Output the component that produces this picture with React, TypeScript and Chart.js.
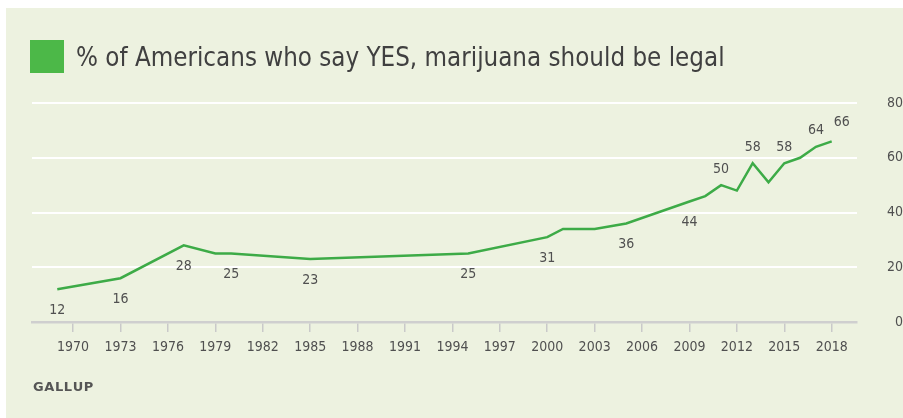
import React, { useEffect, useRef } from "react";
import { Chart, registerables } from "chart.js";

Chart.register(...registerables);

const years = [1969, 1973, 1977, 1979, 1980, 1985, 1995, 2000, 2001, 2003, 2005, 2009, 2010, 2011, 2012, 2013, 2014, 2015, 2016, 2017, 2018];
const values = [12, 16, 28, 25, 25, 23, 25, 31, 34, 34, 36, 44, 46, 50, 48, 58, 51, 58, 60, 64, 66];
// where each value label is placed relative to its point ("" = no label)
const labelPlacement = ["below", "below", "below", "", "below", "below", "below", "below", "", "", "below", "below", "", "above", "", "above", "", "above", "", "above", "aboveRight"];
const tickYears = [1970, 1973, 1976, 1979, 1982, 1985, 1988, 1991, 1994, 1997, 2000, 2003, 2006, 2009, 2012, 2015, 2018];
const yTicks = [0, 20, 40, 60, 80];
const titleText = "% of Americans who say YES, marijuana should be legal";
const sourceText = "GALLUP";

const FONT = "'Liberation Sans Narrow', 'DejaVu Sans Condensed', 'Arial Narrow', sans-serif";
const GREEN = "#3dab47";
const BOX_GREEN = "#4cb848";
const TEXT = "#505050";

const decorPlugin = {
  id: "decor",
  afterDatasetsDraw(chart: any) {
    const ctx = chart.ctx;
    const meta = chart.getDatasetMeta(0);
    ctx.save();
    ctx.font = `14px ${FONT}`;
    ctx.fillStyle = TEXT;
    ctx.textAlign = "center";
    ctx.textBaseline = "middle";
    meta.data.forEach((pt: any, i: number) => {
      const p = labelPlacement[i];
      if (!p) return;
      let dx = 0, dy = 0;
      if (p === "below") dy = 21;
      else if (p === "above") dy = -16;
      else if (p === "aboveRight") { dx = 10; dy = -19; }
      ctx.fillText(String(values[i]), pt.x + dx, pt.y + dy);
    });
    ctx.restore();
  },
  afterDraw(chart: any) {
    const ctx = chart.ctx;
    ctx.save();
    ctx.fillStyle = BOX_GREEN;
    ctx.fillRect(24, 32, 34, 33);
    ctx.fillStyle = "#404040";
    ctx.font = `25.7px ${FONT}`;
    ctx.textAlign = "left";
    ctx.textBaseline = "alphabetic";
    ctx.fillText(titleText, 70, 58);
    ctx.font = `bold 13px 'DejaVu Sans', sans-serif`;
    ctx.fillStyle = "#555";
    ctx.textBaseline = "middle";
    let x = 27;
    for (const ch of sourceText) {
      ctx.fillText(ch, x, 380);
      x += ctx.measureText(ch).width + 0.6;
    }
    ctx.restore();
  },
};

export default function App() {
  const ref = useRef<HTMLCanvasElement>(null);
  useEffect(() => {
    if (!ref.current) return;
    const chart = new Chart(ref.current, {
      type: "line",
      data: {
        datasets: [
          {
            data: years.map((y, i) => ({ x: y, y: values[i] })),
            borderColor: GREEN,
            borderWidth: 2.5,
            pointRadius: 0,
            tension: 0,
            fill: false,
          },
        ],
      },
      options: {
        animation: false,
        responsive: false,
        devicePixelRatio: 1,
        layout: { padding: { top: 95, left: 26, right: 0, bottom: 0 } },
        plugins: { legend: { display: false }, tooltip: { enabled: false } },
        scales: {
          x: {
            type: "linear",
            min: 1967.4,
            max: 2019.6,
            afterBuildTicks: (scale: any) => {
              scale.ticks = tickYears.map((v) => ({ value: v }));
            },
            afterFit: (scale: any) => {
              scale.height = 96;
            },
            ticks: {
              autoSkip: false,
              maxRotation: 0,
              padding: 7,
              color: TEXT,
              font: { family: FONT, size: 14 },
              callback: (v: any) => String(v),
            },
            grid: {
              drawOnChartArea: false,
              drawTicks: true,
              tickLength: 10,
              color: "#c9c9c9",
              lineWidth: 1.5,
            },
            border: { color: "#cfcfcf", width: 2.5 },
          },
          y: {
            position: "right",
            min: 0,
            max: 80,
            afterBuildTicks: (scale: any) => {
              scale.ticks = yTicks.map((v) => ({ value: v }));
            },
            afterFit: (scale: any) => {
              scale.width = 46;
            },
            ticks: {
              crossAlign: "far",
              padding: 15,
              color: TEXT,
              font: { family: FONT, size: 14 },
            },
            grid: {
              drawTicks: false,
              lineWidth: 2,
              color: (c: any) => (c.tick && c.tick.value === 0 ? "rgba(0,0,0,0)" : "#ffffff"),
            },
            border: { display: false },
          },
        },
      },
      plugins: [decorPlugin],
    });
    return () => chart.destroy();
  }, []);
  return (
    <div style={{ position: "absolute", left: 0, top: 0, width: 903, height: 418, background: "#ffffff", overflow: "hidden" }}>
      <div style={{ position: "absolute", left: 6, top: 8, width: 897, height: 410, background: "#edf2e0" }}>
        <canvas ref={ref} width={897} height={410} style={{ display: "block", width: 897, height: 410 }} />
      </div>
    </div>
  );
}
